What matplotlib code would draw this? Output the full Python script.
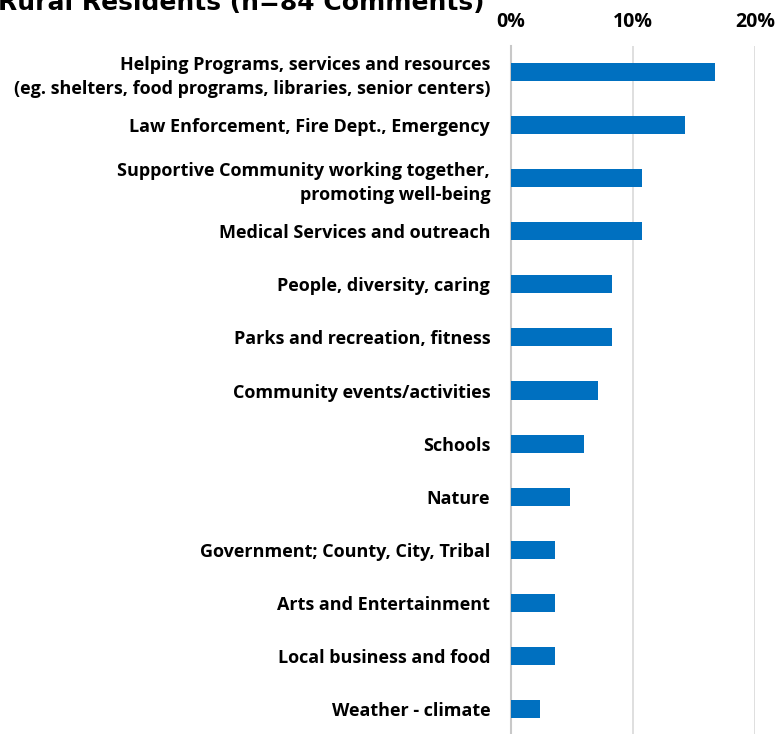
import matplotlib
matplotlib.use("Agg")
import matplotlib.pyplot as plt
from matplotlib.ticker import FixedLocator

categories = [
    "Helping Programs, services and resources\n(eg. shelters, food programs, libraries, senior centers)",
    "Law Enforcement, Fire Dept., Emergency",
    "Supportive Community working together,\npromoting well-being",
    "Medical Services and outreach",
    "People, diversity, caring",
    "Parks and recreation, fitness",
    "Community events/activities",
    "Schools",
    "Nature",
    "Government; County, City, Tribal",
    "Arts and Entertainment",
    "Local business and food",
    "Weather - climate",
]
shares = [16.7, 14.3, 10.7, 10.7, 8.3, 8.3, 7.1, 6.0, 4.8, 3.6, 3.6, 3.6, 2.4]
tick_values = [0, 10, 20]
tick_labels = ["0%", "10%", "20%"]
title = "Rural Residents (n=84 Comments)"

W, H = 775, 734
fig = plt.figure(figsize=(W / 100, H / 100), dpi=100)
ax_left, ax_right = 511 / W, 755 / W
ax_top, ax_bottom = 45.5 / H, 735.5 / H
ax = fig.add_axes([ax_left, 1 - ax_bottom, ax_right - ax_left, ax_bottom - ax_top])

ypos = list(range(len(categories)))
ax.barh(ypos, shares, height=0.34, color="#0070C0", zorder=3)
ax.set_ylim(len(categories) - 0.5, -0.5)
ax.set_xlim(0, 20)

ax.set_yticks(ypos)
ax.set_yticklabels(categories, fontsize=13, fontweight="bold", family="Open Sans",
                   linespacing=1.45, ha="right")
ax.tick_params(axis="y", length=0, pad=15)

ax.xaxis.set_major_locator(FixedLocator(tick_values))
ax.set_xticklabels(tick_labels, fontsize=14, fontweight="bold", family="Open Sans")
ax.xaxis.tick_top()
ax.tick_params(axis="x", length=0, pad=10)

ax.grid(axis="x", color="#d9d9d9", linewidth=1.2, zorder=0)
for side in ["top", "right", "bottom"]:
    ax.spines[side].set_visible(False)
ax.spines["left"].set_color("#c8c8c8")
ax.spines["left"].set_linewidth(1.5)

fig.text(-0.002, 1 - 10 / H, title, fontsize=18, fontweight="bold",
         family="DejaVu Sans", ha="left", va="baseline")

fig.savefig("out.png", dpi=100)
